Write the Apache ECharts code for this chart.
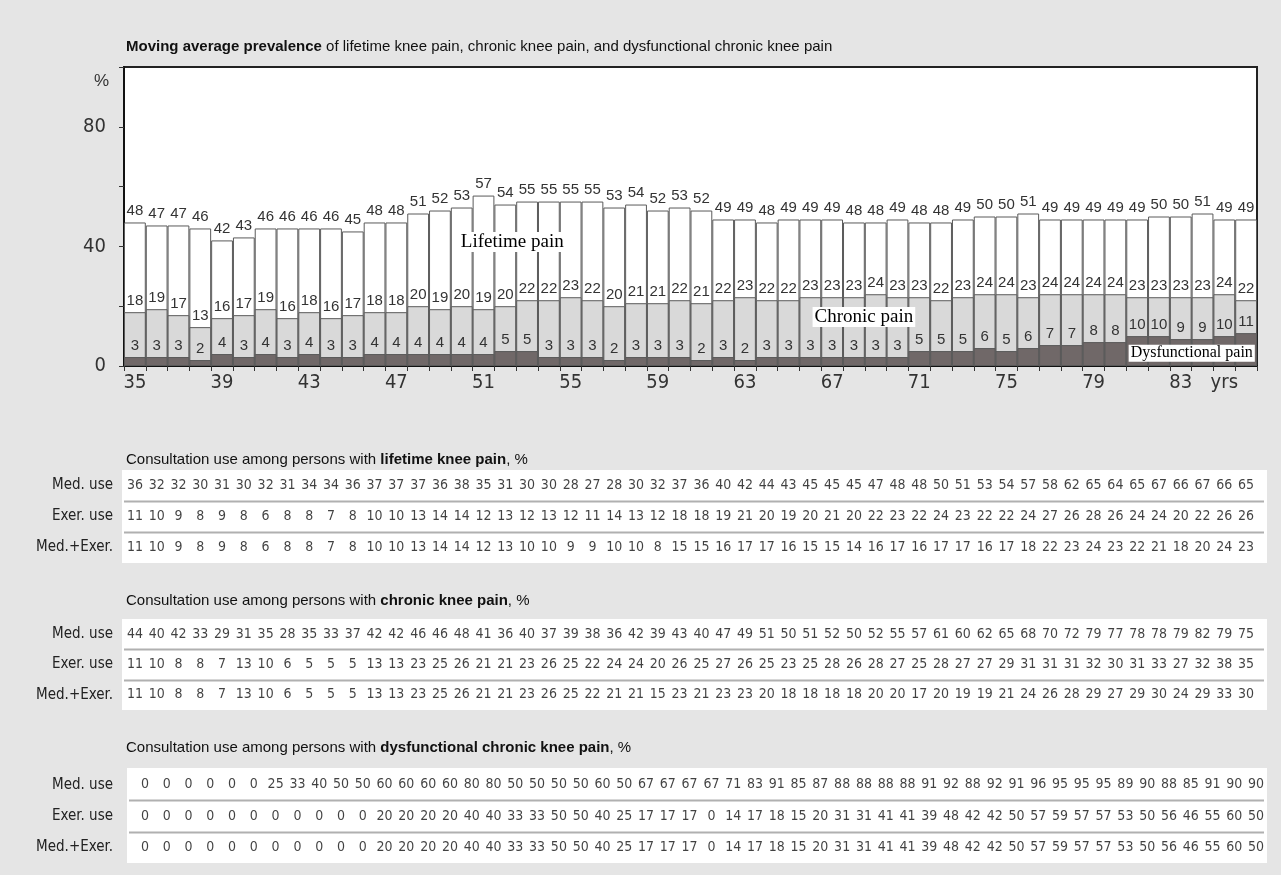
<!DOCTYPE html>
<html><head><meta charset="utf-8">
<script src="https://cdn.jsdelivr.net/npm/echarts@6/dist/echarts.min.js"></script>
<style>html,body{margin:0;padding:0;background:#e5e5e5}#c{width:1281px;height:875px}</style>
</head><body><div id="c"></div>
<script>
const ages = ['35','36','37','38','39','40','41','42','43','44','45','46','47','48','49','50','51','52','53','54','55','56','57','58','59','60','61','62','63','64','65','66','67','68','69','70','71','72','73','74','75','76','77','78','79','80','81','82','83','84','85','86'];
const lifetimePain = [48,47,47,46,42,43,46,46,46,46,45,48,48,51,52,53,57,54,55,55,55,55,53,54,52,53,52,49,49,48,49,49,49,48,48,49,48,48,49,50,50,51,49,49,49,49,49,50,50,51,49,49];
const chronicPain = [18,19,17,13,16,17,19,16,18,16,17,18,18,20,19,20,19,20,22,22,23,22,20,21,21,22,21,22,23,22,22,23,23,23,24,23,23,22,23,24,24,23,24,24,24,24,23,23,23,23,24,22];
const dysfunctionalPain = [3,3,3,2,4,3,4,3,4,3,3,4,4,4,4,4,4,5,5,3,3,3,2,3,3,3,2,3,2,3,3,3,3,3,3,3,5,5,5,6,5,6,7,7,8,8,10,10,9,9,10,11];

const xTickLabels = ['35','39','43','47','51','55','59','63','67','71','75','79','83'];
const xUnitAge = '85';
const xUnitLabel = 'yrs';
const yTickLabels = [0, 40, 80];
const yUnitLabel = '%';

const tableRows = ['Med. use', 'Exer. use', 'Med.+Exer.'];

const lifeMed  = [36,32,32,30,31,30,32,31,34,34,36,37,37,37,36,38,35,31,30,30,28,27,28,30,32,37,36,40,42,44,43,45,45,45,47,48,48,50,51,53,54,57,58,62,65,64,65,67,66,67,66,65];
const lifeExer = [11,10,9,8,9,8,6,8,8,7,8,10,10,13,14,14,12,13,12,13,12,11,14,13,12,18,18,19,21,20,19,20,21,20,22,23,22,24,23,22,22,24,27,26,28,26,24,24,20,22,26,26];
const lifeBoth = [11,10,9,8,9,8,6,8,8,7,8,10,10,13,14,14,12,13,10,10,9,9,10,10,8,15,15,16,17,17,16,15,15,14,16,17,16,17,17,16,17,18,22,23,24,23,22,21,18,20,24,23];

const chronMed  = [44,40,42,33,29,31,35,28,35,33,37,42,42,46,46,48,41,36,40,37,39,38,36,42,39,43,40,47,49,51,50,51,52,50,52,55,57,61,60,62,65,68,70,72,79,77,78,78,79,82,79,75];
const chronExer = [11,10,8,8,7,13,10,6,5,5,5,13,13,23,25,26,21,21,23,26,25,22,24,24,20,26,25,27,26,25,23,25,28,26,28,27,25,28,27,27,29,31,31,31,32,30,31,33,27,32,38,35];
const chronBoth = [11,10,8,8,7,13,10,6,5,5,5,13,13,23,25,26,21,21,23,26,25,22,21,21,15,23,21,23,23,20,18,18,18,18,20,20,17,20,19,19,21,24,26,28,29,27,29,30,24,29,33,30];

const dysMed  = [0,0,0,0,0,0,25,33,40,50,50,60,60,60,60,80,80,50,50,50,50,60,50,67,67,67,67,71,83,91,85,87,88,88,88,88,91,92,88,92,91,96,95,95,95,89,90,88,85,91,90,90];
const dysExer = [0,0,0,0,0,0,0,0,0,0,0,20,20,20,20,40,40,33,33,50,50,40,25,17,17,17,0,14,17,18,15,20,31,31,41,41,39,48,42,42,50,57,59,57,57,53,50,56,46,55,60,50];
const dysBoth = [0,0,0,0,0,0,0,0,0,0,0,20,20,20,20,40,40,33,33,50,50,40,25,17,17,17,0,14,17,18,15,20,31,31,41,41,39,48,42,42,50,57,59,57,57,53,50,56,46,55,60,50];

const annotations = [
  {name: 'Lifetime pain', age: '52', value: 41.5, size: 19, offset: [7, 0]},
  {name: 'Chronic pain', age: '68', value: 16.4, size: 19, offset: [10, 0]},
  {name: 'Dysfunctional pain', age: '83', value: 4.3, size: 16, offset: [11, 0]}
];

const NARROW = '"Liberation Sans Narrow","Arial Narrow","DejaVu Sans Condensed",sans-serif';
const SANS = '"Liberation Sans",Arial,sans-serif';
const SERIF = '"Liberation Serif","Times New Roman",serif';

const chart = echarts.init(document.getElementById('c'), null, {renderer: 'canvas'});

const tables = [
  {title: 'lifetime knee pain', rows: [lifeMed, lifeExer, lifeBoth], titleTop: 447, top: 470, height: 93, left: 124, right: 24, box: [122, 470, 1145, 93], labelPad: 0},
  {title: 'chronic knee pain', rows: [chronMed, chronExer, chronBoth], titleTop: 588, top: 619, height: 91, left: 124, right: 24, box: [122, 619, 1145, 91], labelPad: 0},
  {title: 'dysfunctional chronic knee pain', rows: [dysMed, dysExer, dysBoth], titleTop: 735, top: 769, height: 94, left: 134, right: 14, box: [127, 768, 1140, 95], labelPad: 6}
];

const grids = [{left: 124, right: 24, top: 67, bottom: 509, show: true, backgroundColor: '#fff', borderColor: '#222', borderWidth: 2}];
const xAxes = [{
  type: 'category', data: ages, gridIndex: 0,
  axisLine: {lineStyle: {color: '#111', width: 2}},
  axisTick: {show: true, interval: 0, length: 5, lineStyle: {color: '#333'}},
  axisLabel: {interval: 0, margin: 7, fontSize: 20, fontFamily: NARROW, color: '#333',
    formatter: v => xTickLabels.includes(v) ? v : (v === xUnitAge ? xUnitLabel : '')}
}];
const yAxes = [{
  type: 'value', gridIndex: 0, min: 0, max: 100, interval: 20,
  axisLine: {show: true, lineStyle: {color: '#111', width: 2}},
  axisTick: {show: true, length: 5, lineStyle: {color: '#333'}},
  splitLine: {show: false},
  axisLabel: {margin: 18, fontSize: 20, fontFamily: NARROW, color: '#333',
    formatter: v => yTickLabels.includes(v) ? String(v) : ''}
}];

const barLabel = {show: true, position: 'top', distance: 4, fontSize: 15, fontFamily: SANS, color: '#333'};
const series = [
  {type: 'bar', name: 'Lifetime pain', xAxisIndex: 0, yAxisIndex: 0, data: lifetimePain,
   barCategoryGap: '0%', barGap: '-100%',
   itemStyle: {color: '#fff', borderColor: '#5a5a5a', borderWidth: 1}, label: barLabel},
  {type: 'bar', name: 'Chronic pain', xAxisIndex: 0, yAxisIndex: 0, data: chronicPain,
   barCategoryGap: '0%', barGap: '-100%',
   itemStyle: {color: '#d9d9d9', borderColor: '#5a5a5a', borderWidth: 1}, label: barLabel},
  {type: 'bar', name: 'Dysfunctional pain', xAxisIndex: 0, yAxisIndex: 0, data: dysfunctionalPain,
   barCategoryGap: '0%', barGap: '-100%', z: 3,
   itemStyle: {color: '#706868', borderColor: '#5a5a5a', borderWidth: 1}, label: barLabel,
   markPoint: {
     symbol: 'rect', symbolSize: 1, itemStyle: {color: 'rgba(0,0,0,0)'}, silent: true, animation: false,
     data: annotations.map(a => ({
       name: a.name, coord: [a.age, a.value],
       label: {show: true, position: 'inside', formatter: a.name, fontFamily: SERIF, fontSize: a.size,
               color: '#000', backgroundColor: '#fff', padding: [1, 2, 0, 2], offset: a.offset}
     }))
   }}
];

const richStyles = {
  b: {fontWeight: 'bold', fontSize: 15, fontFamily: SANS, color: '#111'},
  n: {fontWeight: 'normal', fontSize: 15, fontFamily: SANS, color: '#111'}
};
const titles = [{
  left: 121, top: 34,
  text: '{b|Moving average prevalence}{n| of lifetime knee pain, chronic knee pain, and dysfunctional chronic knee pain}',
  textStyle: {fontWeight: 'normal', rich: richStyles}
}];

const graphics = [{
  type: 'text', left: 94, top: 73, z: 10,
  style: {text: yUnitLabel, font: '17px "Liberation Sans", Arial, sans-serif', fill: '#333'}
}];

tables.forEach((t, k) => {
  const gi = k + 1;
  grids.push({left: t.left, right: t.right, top: t.top, height: t.height, show: false});
  xAxes.push({type: 'category', data: ages, gridIndex: gi, show: false});
  yAxes.push({type: 'category', data: tableRows, gridIndex: gi, inverse: true,
    axisLine: {show: false}, axisTick: {show: false}, splitLine: {show: false},
    axisLabel: {margin: t.left - 113, fontSize: 15, fontFamily: NARROW, color: '#222', padding: [0, 0, t.labelPad, 0]}});
  const data = [];
  t.rows.forEach((arr, r) => arr.forEach((v, i) => data.push([i, r, v])));
  series.push({type: 'scatter', xAxisIndex: gi, yAxisIndex: gi, data: data, symbolSize: 1, silent: true,
    itemStyle: {color: 'rgba(0,0,0,0)'},
    label: {show: true, position: 'inside', formatter: p => String(p.value[2]), fontSize: 14, fontFamily: NARROW, color: '#111'}});
  titles.push({left: 121, top: t.titleTop,
    text: '{n|Consultation use among persons with }{b|' + t.title + '}{n|, %}',
    textStyle: {fontWeight: 'normal', rich: richStyles}});
  const [bx, by, bw, bh] = t.box;
  graphics.push({type: 'rect', z: -1, shape: {x: bx, y: by, width: bw, height: bh}, style: {fill: '#fff'}});
  const rowH = t.height / 3;
  [1, 2].forEach(j => {
    const yy = Math.round(t.top + rowH * j) + 0.5;
    graphics.push({type: 'line', z: 0, shape: {x1: bx + 2, y1: yy, x2: bx + bw - 3, y2: yy},
      style: {stroke: '#b0b0b0', lineWidth: 2}});
  });
});

chart.setOption({
  backgroundColor: '#e5e5e5',
  animation: false,
  title: titles,
  grid: grids,
  xAxis: xAxes,
  yAxis: yAxes,
  graphic: graphics,
  series: series
});
</script></body></html>
